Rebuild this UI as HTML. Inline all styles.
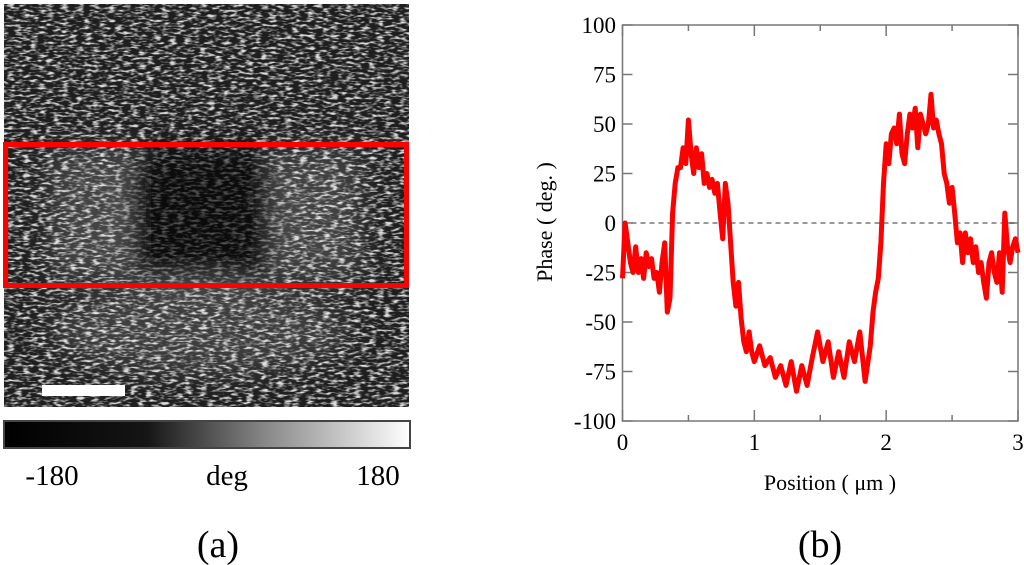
<!DOCTYPE html>
<html><head><meta charset="utf-8"><style>
body{margin:0;background:#fff;width:1024px;height:565px;overflow:hidden;font-family:"Liberation Serif",serif}
svg{position:absolute;left:0;top:0}
</style></head><body>
<svg width="1024" height="565">
<defs>
<filter id="nz" x="0" y="0" width="100%" height="100%">
<feTurbulence type="fractalNoise" baseFrequency="0.13 0.4" numOctaves="2" seed="4" result="t"/>
<feColorMatrix type="matrix" in="t" values="0 0 0 0 0  0 0 0 0 0  0 0 0 0 0  0 0 0 -3.4 1.85" result="a"/>
<feComposite in="SourceGraphic" in2="a" operator="in"/>
</filter>
<filter id="bl" x="-50%" y="-50%" width="200%" height="200%"><feGaussianBlur stdDeviation="14"/></filter>
<linearGradient id="cb" x1="0" x2="1"><stop offset="0" stop-color="#000"/><stop offset="0.35" stop-color="#151515"/><stop offset="0.65" stop-color="#8a8a8a"/><stop offset="1" stop-color="#fff"/></linearGradient>
</defs>
<g>
<rect x="4" y="4" width="405" height="403" fill="#1e1e1e"/>
<rect x="4" y="4" width="405" height="403" fill="#dcdcdc" filter="url(#nz)"/>
<g filter="url(#bl)">
<rect x="50" y="150" width="80" height="130" fill="#fff" opacity="0.16"/>
<rect x="280" y="150" width="80" height="130" fill="#fff" opacity="0.16"/>
<ellipse cx="200" cy="330" rx="150" ry="45" fill="#fff" opacity="0.14"/>
<rect x="122" y="148" width="156" height="136" rx="30" fill="#000" opacity="0.62"/>
</g>
<rect x="42" y="385" width="83" height="11" fill="#fff"/>
<rect x="5.5" y="144.5" width="401" height="141" fill="none" stroke="#f00" stroke-width="5"/>
</g>
<rect x="4" y="421" width="406" height="27" fill="url(#cb)" stroke="#444" stroke-width="2"/>
<text x="52" y="485" font-size="29" text-anchor="middle">-180</text>
<text x="227" y="485" font-size="29" text-anchor="middle">deg</text>
<text x="378" y="485" font-size="29" text-anchor="middle">180</text>
<text x="218" y="557" font-size="38" text-anchor="middle">(a)</text>
<text x="820" y="557" font-size="38" text-anchor="middle">(b)</text>
<g id="chart"></g>
</svg>
<script>
const xs=[0,0.02,0.04,0.06,0.08,0.10,0.12,0.14,0.16,0.18,0.20,0.22,0.24,0.26,0.28,0.30,0.32,0.34,0.36,0.38,0.40,0.42,0.44,0.46,0.48,0.50,0.52,0.54,0.56,0.58,0.60,0.62,0.64,0.66,0.68,0.70,0.72,0.74,0.76,0.78,0.80,0.82,0.84,0.86,0.88,0.90,0.92,0.94,0.96,0.98,1.00,1.04,1.08,1.12,1.16,1.20,1.24,1.28,1.32,1.36,1.40,1.44,1.48,1.52,1.56,1.60,1.64,1.68,1.72,1.76,1.80,1.84,1.88,1.90,1.92,1.94,1.96,1.98,2.00,2.02,2.04,2.06,2.08,2.10,2.12,2.14,2.16,2.18,2.20,2.22,2.24,2.26,2.28,2.30,2.32,2.34,2.36,2.38,2.40,2.42,2.44,2.46,2.48,2.50,2.52,2.54,2.56,2.58,2.60,2.62,2.64,2.66,2.68,2.70,2.72,2.74,2.76,2.78,2.80,2.82,2.84,2.86,2.88,2.90,2.92,2.94,2.96,2.98,3.00];
const phase=[-28,0,-10,-20,-25,-12,-25,-18,-28,-15,-22,-18,-28,-25,-35,-20,-10,-45,-38,5,20,28,28,38,30,52,35,25,38,28,35,20,25,18,22,15,20,5,-8,20,10,-10,-30,-42,-30,-48,-60,-65,-55,-65,-70,-62,-72,-68,-78,-72,-82,-70,-85,-72,-82,-68,-55,-70,-60,-78,-65,-78,-60,-70,-55,-80,-62,-45,-35,-28,-10,20,40,30,45,48,40,55,35,30,45,55,48,58,38,55,50,45,50,65,48,52,45,40,25,20,10,18,5,-10,-5,-20,-5,-15,-8,-20,-12,-25,-20,-30,-38,-20,-15,-25,-30,-15,-35,5,-12,-20,-12,-8,-15];
const xTicks=[0,1,2,3];
const yTicks=[100,75,50,25,0,-25,-50,-75,-100];
const X0=622.5,X1=1018,Y0=421,Y1=25;
const sx=v=>X0+(v-0)/(3-0)*(X1-X0);
const sy=v=>Y0-(v+100)/200*(Y0-Y1);
const g=document.getElementById('chart');
const NS='http://www.w3.org/2000/svg';
function mk(t,a){const e=document.createElementNS(NS,t);for(const k in a)e.setAttribute(k,a[k]);g.appendChild(e);return e;}
let f=mk('rect',{x:X0,y:Y1,width:X1-X0,height:Y0-Y1,fill:'none',stroke:'#777','stroke-width':1.5});


yTicks.forEach(v=>{
 const y=sy(v);
 let t=mk('line',{x1:X0,x2:X0+10,y1:y,y2:y,stroke:'#777','stroke-width':1.5});
 
 
 let t2=mk('line',{x1:X1-10,x2:X1,y1:y,y2:y,stroke:'#777','stroke-width':1.5});
 
 
 let l=mk('text',{x:616,y:y+8,'font-size':23,'text-anchor':'end'});l.textContent=v;
 
 
});
for(let v=0;v<=3;v+=0.5){
 const x=sx(v),len=(v%1===0)?11:6;
 let t=mk('line',{x1:x,x2:x,y1:Y0,y2:Y0-len,stroke:'#777','stroke-width':1.5});
 
 
 let t2=mk('line',{x1:x,x2:x,y1:Y1,y2:Y1+len,stroke:'#777','stroke-width':1.5});
 
 
}
xTicks.forEach(v=>{
 let l=mk('text',{x:sx(v),y:450,'font-size':23,'text-anchor':'middle'});l.textContent=v;
 
 
});
let z=mk('line',{x1:X0,x2:X1,y1:sy(0),y2:sy(0),stroke:'#333','stroke-width':1,'stroke-dasharray':'5,4'});


let d=xs.map((x,i)=>(i?'L':'M')+sx(x).toFixed(1)+','+sy(phase[i]).toFixed(1)).join('');
let p=mk('path',{d:d,fill:'none',stroke:'#f00','stroke-width':5,'stroke-linejoin':'round'});


let xl=mk('text',{x:830,y:490,'font-size':22,'text-anchor':'middle'});xl.textContent='Position ( μm )';


let yl=mk('text',{x:0,y:0,'font-size':22,'text-anchor':'middle',transform:'translate(552,222) rotate(-90)'});yl.textContent='Phase ( deg. )';


</script>
</body></html>
